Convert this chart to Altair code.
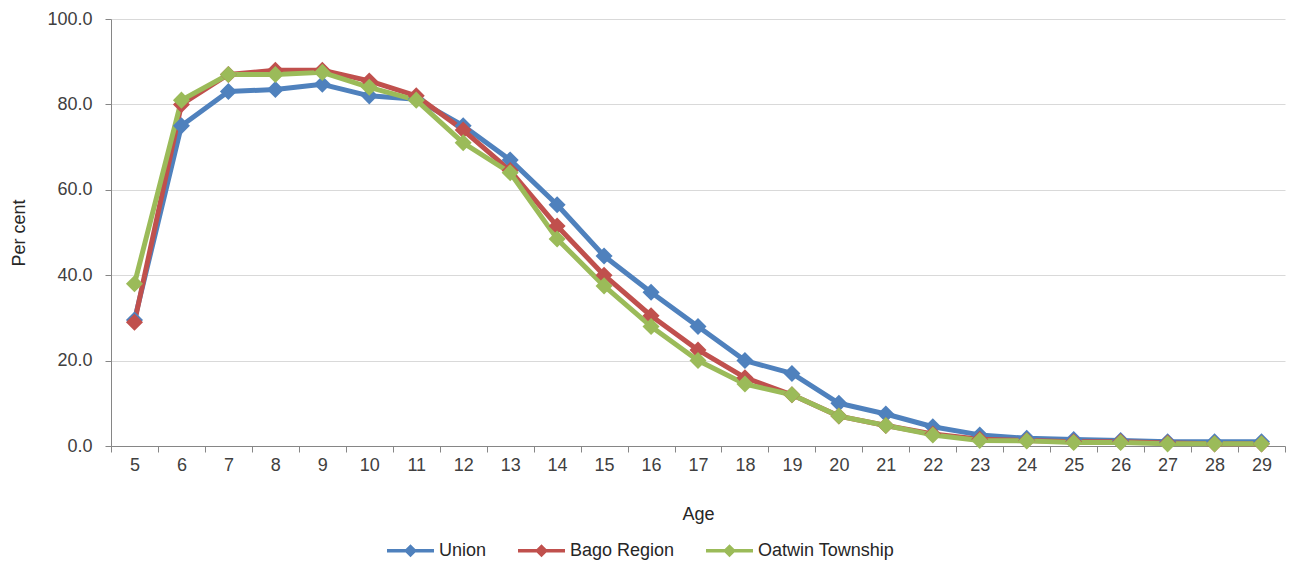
import altair as alt
import pandas as pd

# Age in completed years
ages = list(range(5, 30))

# Per cent attending school, by age
union = [29.5, 75.0, 83.0, 83.5, 84.7, 82.0, 81.2, 75.0, 67.0, 56.5, 44.5, 36.0, 28.0,
         20.0, 17.0, 10.0, 7.5, 4.5, 2.6, 1.8, 1.5, 1.3, 1.0, 1.0, 1.0]
bago = [29.0, 80.0, 87.0, 88.0, 88.0, 85.5, 82.0, 74.0, 64.5, 51.5, 40.0, 30.5, 22.5,
        16.0, 12.0, 7.0, 4.8, 2.8, 1.6, 1.3, 1.0, 1.0, 0.7, 0.5, 0.5]
oatwin = [38.0, 81.0, 87.0, 87.0, 87.5, 84.0, 81.0, 71.0, 64.0, 48.5, 37.5, 28.0, 20.0,
          14.5, 12.0, 7.0, 4.8, 2.6, 1.3, 1.2, 0.8, 0.8, 0.5, 0.5, 0.5]

series_names = ["Union", "Bago Region", "Oatwin Township"]
series_colors = ["#4f81bd", "#c0504d", "#9bbb59"]

rows = []
for order, (name, values) in enumerate(zip(series_names, [union, bago, oatwin])):
    for age, v in zip(ages, values):
        rows.append({"Age": age, "Per cent": v, "Series": name, "order": order})
df = pd.DataFrame(rows)

font = "Liberation Sans"
fs = 18
color = alt.Color(
    "Series:N",
    scale=alt.Scale(domain=series_names, range=series_colors),
    sort=series_names,
    legend=alt.Legend(
        title=None,
        orient="none",
        direction="horizontal",
        legendX=274,
        legendY=506,
        symbolType="M-1,0L1,0M0,-0.17L0.17,0L0,0.17L-0.17,0Z",
        symbolSize=2209,
        symbolStrokeWidth=3.5,
        labelFont=font,
        labelFontSize=fs,
        labelColor="#262626",
        labelOffset=3,
        columnPadding=24,
    ),
)

x = alt.X(
    "Age:O",
    title="Age",
    scale=alt.Scale(paddingInner=0, paddingOuter=0),
    axis=alt.Axis(
        labelAngle=0,
        tickBand="extent",
        tickSize=6,
        tickColor="#868686",
        domainColor="#868686",
        labelFont=font,
        labelFontSize=fs,
        labelColor="#404040",
        labelPadding=4,
        titleFont=font,
        titleFontSize=fs,
        titleFontWeight="normal",
        titleColor="#262626",
        titlePadding=31,
        grid=False,
    ),
)

y = alt.Y(
    "Per cent:Q",
    title="Per cent",
    scale=alt.Scale(domain=[0, 100], nice=False),
    axis=alt.Axis(
        values=[0, 20, 40, 60, 80, 100],
        format=".1f",
        tickSize=6,
        tickColor="#868686",
        domainColor="#868686",
        gridColor="#d9d9d9",
        gridWidth=1.2,
        labelFont=font,
        labelFontSize=fs,
        labelColor="#404040",
        labelPadding=13,
        titleFont=font,
        titleFontSize=fs,
        titleFontWeight="normal",
        titleColor="#262626",
        titlePadding=18,
    ),
)

base = alt.Chart(df).encode(x=x, y=y, color=color, order=alt.Order("order:Q"))

lines = base.mark_line(strokeWidth=5, strokeJoin="round")
points = base.mark_point(filled=True, shape="diamond", size=290, opacity=1)

chart = (
    alt.layer(lines, points)
    .properties(
        width=1174,
        height=427,
        padding={"left": 111, "top": 19, "right": 8, "bottom": 120},
        autosize=alt.AutoSizeParams(type="none"),
        background="white",
    )
    .configure_view(stroke=None)
)

chart.save("out.html", embed_options={"renderer": "svg", "actions": False})
